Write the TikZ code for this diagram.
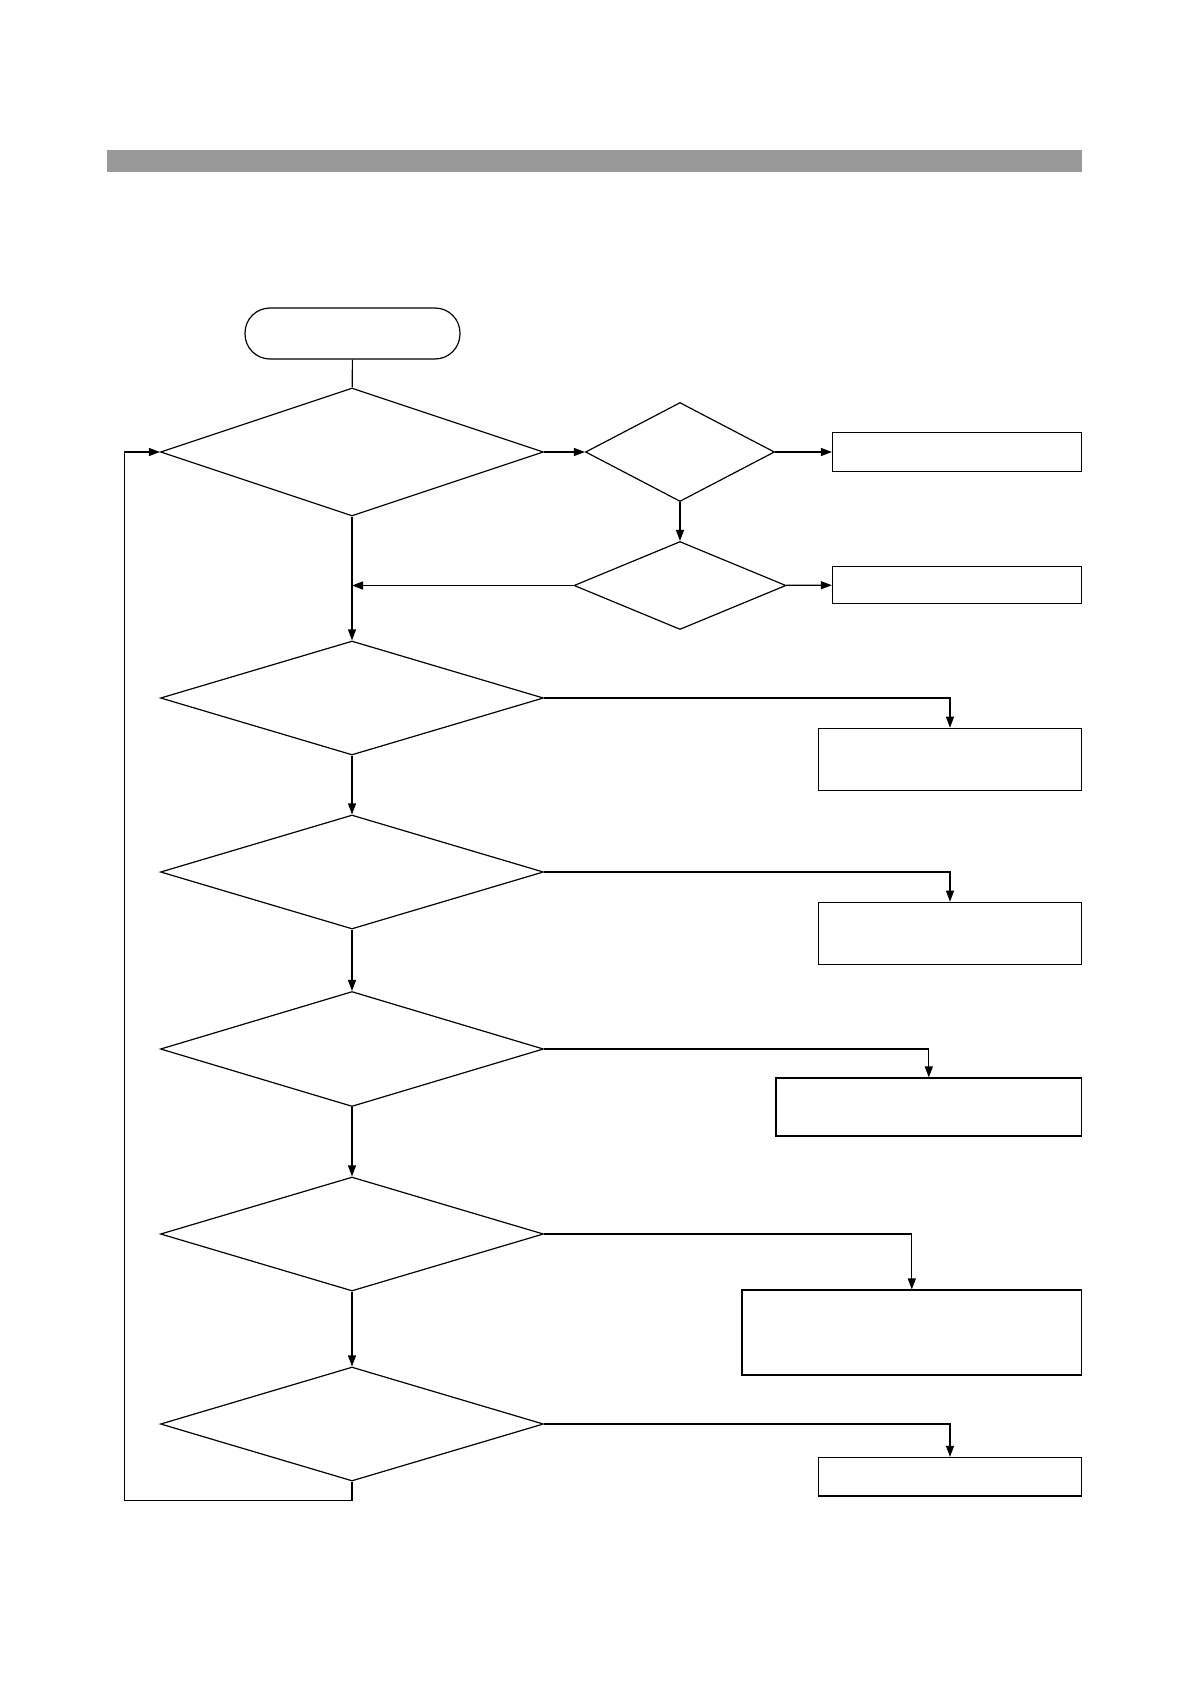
\documentclass[tikz,border=0pt]{standalone}
\usepackage{tikz}
\usetikzlibrary{shapes.geometric,arrows.meta,calc}
\usepackage{xcolor}
\definecolor{bargray}{RGB}{153,153,153}

\begin{document}
\begin{tikzpicture}[
  x=1pt, y=-1pt,
  line width=1.2pt,
  term/.style={rectangle, draw, rounded corners=25pt, minimum width=215pt, minimum height=51pt, inner sep=0pt},
  dec/.style={diamond, draw, inner sep=0pt, minimum width=383pt, minimum height=114pt},
  box/.style={rectangle, draw, inner sep=0pt, minimum width=263pt, minimum height=62pt},
  arrow/.style={-{Triangle[length=11pt,width=8pt]}}
]
  \useasboundingbox (0,0) rectangle (1190,1684);
  \fill[bargray] (107,150) rectangle (1082,172);

  \node[term] (start) at (352.5,333.5) {};
  \node[dec, minimum height=128pt] (d1) at (352,452) {};
  \node[dec, minimum width=189pt, minimum height=99pt] (d2) at (680,452) {};
  \node[dec, minimum width=212pt, minimum height=88pt] (d3) at (680,585.5) {};
  \node[box, minimum width=249pt, minimum height=38.5pt] (b1) at (957,452) {};
  \node[box, minimum width=249pt, minimum height=37.5pt] (b2) at (957,585) {};

  \node[dec] (d4) at (352,698) {};
  \node[dec] (d5) at (352,872) {};
  \node[dec, minimum height=115pt] (d6) at (352,1049) {};
  \node[dec] (d7) at (352,1234) {};
  \node[dec] (d8) at (352,1424) {};

  \node[box] (b3) at (950,759.3) {};
  \node[box] (b4) at (950,933.3) {};
  \node[box, minimum width=305.5pt, minimum height=58pt] (b5) at (928.8,1107) {};
  \node[box, minimum width=339.5pt, minimum height=85pt] (b6) at (911.8,1332.5) {};
  \node[box, minimum height=38.5pt] (b7) at (950,1476.7) {};

  \coordinate (lp) at (124.6,1500.4);

  \draw (start) -- (d1);
  \draw[arrow] (d1) -- (d2);
  \draw[arrow] (d2) -- (b1);
  \draw[arrow] (d2) -- (d3);
  \draw[arrow] (d3) -- (b2);
  \draw[arrow] (d3.west) -- (d3.west -| d1.south);
  \draw[arrow] (d1) -- (d4);
  \draw[arrow] (d4) -- (d5);
  \draw[arrow] (d5) -- (d6);
  \draw[arrow] (d6) -- (d7);
  \draw[arrow] (d7) -- (d8);
  \draw[arrow] (d4.east) -| (b3.north);
  \draw[arrow] (d5.east) -| (b4.north);
  \draw[arrow] (d6.east) -| (b5.north);
  \draw[arrow] (d7.east) -| (b6.north);
  \draw[arrow] (d8.east) -| (b7.north);
  \draw[arrow] (d8.south) |- (lp) |- (d1.west);
\end{tikzpicture}
\end{document}
